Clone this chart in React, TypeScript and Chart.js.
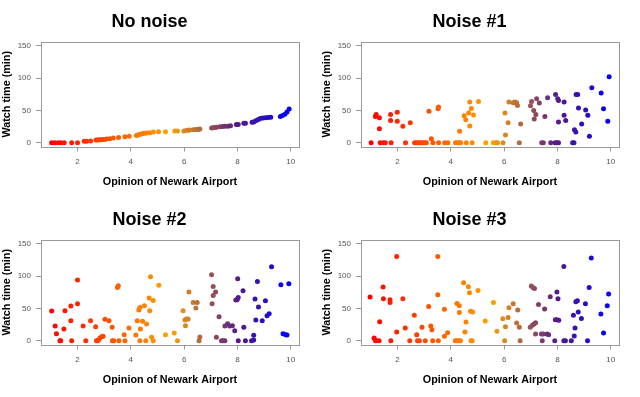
import React, { useEffect, useRef } from 'react';
import { Chart, registerables } from 'chart.js';

Chart.register(...registerables);

const X_TICKS = [2, 4, 6, 8, 10];
const Y_TICKS = [0, 50, 100, 150];
const X_LABEL = 'Opinion of Newark Airport';
const Y_LABEL = 'Watch time (min)';
const TITLES = ['No noise', 'Noise #1', 'Noise #2', 'Noise #3'];

const noNoiseX = [1.03,1.15,1.28,1.38,1.5,1.78,2.0,2.25,2.34,2.49,2.69,2.75,2.81,2.88,2.94,3.0,3.09,3.21,3.34,3.54,3.78,3.94,4.21,4.26,4.34,4.4,4.46,4.53,4.59,4.71,4.84,5.04,5.3,5.65,5.75,5.99,6.09,6.15,6.21,6.34,6.44,6.53,6.59,7.03,7.09,7.15,7.21,7.34,7.44,7.53,7.65,7.74,7.96,8.03,8.24,8.3,8.55,8.61,8.69,8.78,8.86,8.96,9.06,9.15,9.25,9.61,9.69,9.78,9.86,9.94];
const noNoiseY = [0,0,0,0,0,0,0,2,2,2.5,4,4,4.5,4.5,5,5,5.5,6,7,8,9,10,11,12,13,13.5,14,14.5,15,15.5,16.5,17,17,18,18,18,19,19,19.5,20,20.5,20.5,21,22.5,23,23.5,24,24.5,25,25.5,25.5,26,28,28,30,30,31.5,32,34,36,37.5,38,38.5,39,39.5,40.7,42,44,47.5,52];

const noise1X = [1.01,1.17,1.2,1.32,1.32,1.35,1.47,1.54,1.74,1.74,1.76,1.99,1.99,2.2,2.3,2.48,2.64,2.7,2.77,2.83,2.89,2.95,3.02,3.08,3.18,3.27,3.33,3.52,3.54,3.54,3.77,3.89,4.18,4.25,4.31,4.37,4.33,4.5,4.56,4.67,4.71,4.77,4.71,4.85,5.04,4.58,4.8,5.31,5.59,5.69,5.75,5.96,6.03,6.05,6.15,6.18,6.34,6.4,6.47,6.5,6.57,6.62,6.99,7.03,7.11,7.19,7.13,7.22,7.32,7.41,7.47,7.53,7.63,7.75,7.91,7.97,8.04,7.93,8.01,8.04,8.04,8.25,8.25,8.31,8.57,8.62,8.64,8.69,8.7,8.76,8.79,8.91,9.06,9.14,9.2,9.29,9.64,9.73,9.89,9.94];
const noise1Y = [0,40.7,43.8,38.7,21.6,0,0,0,43.8,34.5,0,47,33,25.3,0,31,0,0,0,0,0,0,0,0,48.5,6.2,0,52.6,55.2,0,0,0,0,0,0,0,17.5,41.8,35.6,45.9,62.9,53.1,25.8,42.8,63.9,0,0,0,0,0,0,0,45.9,11.9,30.9,62.9,61.9,62.9,61.9,57.7,0,28.9,57.2,63.9,50,43.8,36.6,68,61.3,0,0,40.7,69.6,0,0,0,0,74.7,68,65.5,32,62.9,42.3,34.5,0,0,20.1,16.5,74.7,74.7,53.6,28.9,50.5,42.3,9.8,85,76.8,52.6,33,102];

const noise2X = [1.03,1.16,1.21,1.34,1.37,1.49,1.53,1.75,1.75,1.78,2.0,2.0,2.21,2.31,2.49,2.68,2.71,2.75,2.79,2.84,2.9,2.96,3.03,3.18,3.3,3.31,3.36,3.5,3.53,3.55,3.75,3.78,3.93,4.19,4.24,4.3,4.34,4.36,4.34,4.44,4.51,4.56,4.59,4.69,4.71,4.74,4.78,4.84,4.84,5.05,5.3,5.63,5.75,5.96,6.03,6.09,6.05,6.15,6.18,6.34,6.49,6.44,6.56,6.59,7.03,7.09,7.05,7.09,7.18,7.21,7.31,7.4,7.46,7.53,7.53,7.63,7.71,7.81,7.9,7.94,7.99,8.03,8.01,8.03,8.21,8.24,8.3,8.53,8.61,8.61,8.66,8.69,8.75,8.79,8.93,9.05,9.11,9.19,9.28,9.63,9.71,9.81,9.86,9.93];
const noise2Y = [45.9,22.7,10.8,0,0,18,46.4,30.9,53.6,0,57.2,93.8,22.7,0,30.9,21.6,0,0,1,4,6.2,6.7,33,30.9,20.6,0,0,82.5,85,0,9.3,0,19.6,8.8,30.9,47.4,51.5,18,0,29.9,54.1,0,25.8,66,46.4,99,5.2,62.4,0,86,9.3,11.9,0,46.4,32,33.5,23.2,33.5,75.3,59.3,59.3,50.5,0,5.7,102,84,57.2,70,75.3,5.2,37.1,0,0,0,22.7,26.3,22.7,23.2,15.5,63,63.4,67,96,0,77.3,20.6,0,0,1,8.2,64.4,32,91.8,52,30.9,61.9,38.7,41.8,114.4,86.6,10.8,9.3,8.8,88];

const noise3X = [0.97,1.12,1.16,1.18,1.31,1.33,1.46,1.47,1.72,1.72,1.75,1.97,1.97,2.2,2.29,2.46,2.63,2.72,2.75,2.82,2.92,3.04,3.17,3.25,3.29,3.32,3.51,3.51,3.53,3.76,3.76,3.88,4.17,4.23,4.3,4.36,4.23,4.32,4.32,4.48,4.53,4.57,4.66,4.7,4.74,4.82,4.76,4.8,5.02,5.29,5.6,5.73,5.95,6.02,6.05,6.15,6.18,6.34,6.47,6.51,6.57,6.6,6.98,7.06,7.12,7.18,7.02,7.08,7.14,7.18,7.29,7.4,7.46,7.43,7.52,7.61,7.67,7.73,7.9,7.92,7.98,8.05,7.98,8.02,8.24,8.24,8.3,8.52,8.6,8.63,8.66,8.69,8.75,8.78,8.9,9.05,9.13,9.19,9.27,9.63,9.73,9.87,9.92];
const noise3Y = [67.5,4.1,1.5,0,0,29.4,83,65,63.4,59.3,0,130.4,13.4,65,19.6,0,39.2,9.3,0,0,20.6,0,53.1,22.7,17,0,130.4,71.1,0,48.5,6.7,12.4,0,0,0,0,57.7,54.1,43.8,89.7,13.4,28.9,83.5,74.2,45.4,44.3,0,0,77.8,30.4,59.3,14.4,34,0,21.6,36,51,57.2,27.3,47.4,20.6,0,20.6,23.7,25.8,27.8,84.5,82.5,81,10.3,56.2,10.3,10.3,0,49,10.3,9.3,68,0,32.5,32.5,31.4,75.3,65,115,0,0,0,39.2,7.2,19.6,60.3,61.9,44.3,34.5,57.2,0,82.5,128,41.2,11.9,54.1,72.2];

const FONT = '"Liberation Sans", Arial, Helvetica, sans-serif';

// colour ramp along x (red -> orange -> purple4 -> blue)
const STOPS: [number, number[]][] = [
  [1, [255, 0, 0]],
  [5.5, [255, 165, 0]],
  [8, [85, 26, 139]],
  [10, [0, 0, 255]],
];
function colorAt(x: number): string {
  if (x <= STOPS[0][0]) return `rgb(${STOPS[0][1].join(',')})`;
  for (let i = 0; i < STOPS.length - 1; i++) {
    const [a, ca] = STOPS[i];
    const [b, cb] = STOPS[i + 1];
    if (x <= b) {
      const t = (x - a) / (b - a);
      const c = ca.map((v, k) => Math.round(v + (cb[k] - v) * t));
      return `rgb(${c.join(',')})`;
    }
  }
  return `rgb(${STOPS[STOPS.length - 1][1].join(',')})`;
}

const boxPlugin = {
  id: 'rbox',
  afterDatasetsDraw(chart: any) {
    const { ctx, chartArea } = chart;
    ctx.save();
    ctx.strokeStyle = '#9a9a9a';
    ctx.lineWidth = 1;
    ctx.strokeRect(
      Math.round(chartArea.left) + 0.5,
      Math.round(chartArea.top) + 0.5,
      Math.round(chartArea.right - chartArea.left),
      Math.round(chartArea.bottom - chartArea.top)
    );
    ctx.restore();
  },
};

function Panel(props: { title: string; xs: number[]; ys: number[]; left: number; top: number }) {
  const ref = useRef<HTMLCanvasElement | null>(null);
  useEffect(() => {
    if (!ref.current) return;
    const { xs, ys, title } = props;
    const chart = new Chart(ref.current, {
      type: 'scatter',
      data: {
        datasets: [
          {
            data: xs.map((x, i) => ({ x, y: ys[i] })),
            pointBackgroundColor: xs.map(colorAt),
            pointBorderColor: xs.map(colorAt),
            pointBorderWidth: 0,
            pointRadius: 2.5,
            pointHoverRadius: 2.5,
          },
        ],
      },
      options: {
        animation: false,
        responsive: false,
        devicePixelRatio: 1,
        layout: { padding: { left: 0, right: 21, top: 0, bottom: 0 } },
        plugins: {
          legend: { display: false },
          tooltip: { enabled: false },
          title: {
            display: true,
            text: title,
            color: '#000',
            font: { family: FONT, size: 18, weight: 'bold' },
            padding: { top: 10.9, bottom: 9.5 },
          },
        },
        scales: {
          x: {
            type: 'linear',
            position: 'bottom',
            min: 0.63,
            max: 10.31,
            afterBuildTicks: (s: any) => {
              s.ticks = X_TICKS.map((v) => ({ value: v }));
            },
            afterFit: (s: any) => {
              s.height = 51.5;
            },
            ticks: {
              color: '#555',
              font: { family: FONT, size: 8 },
              padding: 5.4,
              maxRotation: 0,
              autoSkip: false,
            },
            grid: {
              drawOnChartArea: false,
              drawTicks: true,
              tickLength: 5,
              color: '#9a9a9a',
              tickColor: '#9a9a9a',
            },
            border: { display: false },
            title: {
              display: true,
              text: X_LABEL,
              color: '#000',
              font: { family: FONT, size: 10.8, weight: 'bold' },
              padding: { top: 0, bottom: 9.5 },
            },
          },
          y: {
            type: 'linear',
            position: 'left',
            min: -6,
            max: 156,
            afterBuildTicks: (s: any) => {
              s.ticks = Y_TICKS.map((v) => ({ value: v }));
            },
            afterFit: (s: any) => {
              s.width = 41;
            },
            ticks: {
              color: '#555',
              font: { family: FONT, size: 8 },
              padding: 5,
              autoSkip: false,
            },
            grid: {
              drawOnChartArea: false,
              drawTicks: true,
              tickLength: 5,
              color: '#9a9a9a',
              tickColor: '#9a9a9a',
            },
            border: { display: false },
            title: {
              display: true,
              text: Y_LABEL,
              color: '#000',
              font: { family: FONT, size: 10.8, weight: 'bold' },
              padding: { top: 1, bottom: 0 },
            },
          },
        },
      } as any,
      plugins: [boxPlugin],
    });
    return () => chart.destroy();
  }, []);
  return (
    <div style={{ position: 'absolute', left: props.left, top: props.top, width: 320, height: 198 }}>
      <canvas ref={ref} width={320} height={198} style={{ display: 'block' }} />
    </div>
  );
}

export default function App() {
  return (
    <div style={{ position: 'absolute', left: 0, top: 0, width: 640, height: 397, background: '#fff' }}>
      <Panel title={TITLES[0]} xs={noNoiseX} ys={noNoiseY} left={0} top={0} />
      <Panel title={TITLES[1]} xs={noise1X} ys={noise1Y} left={320} top={0} />
      <Panel title={TITLES[2]} xs={noise2X} ys={noise2Y} left={0} top={198} />
      <Panel title={TITLES[3]} xs={noise3X} ys={noise3Y} left={320} top={198} />
    </div>
  );
}
